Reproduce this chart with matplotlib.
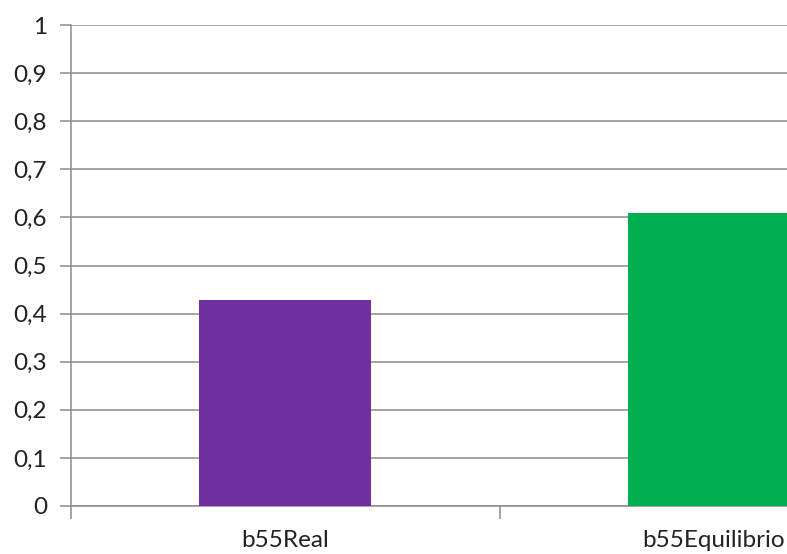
import matplotlib.pyplot as plt
import numpy as np
from matplotlib.ticker import FixedLocator

categories = ['b55Real', 'b55Equilibrio']
values = [0.428, 0.609]
colors = ['#7030A0', '#00B050']
yticks = [0, 0.1, 0.2, 0.3, 0.4, 0.5, 0.6, 0.7, 0.8, 0.9, 1]

plt.rcParams['font.family'] = ['Lato', 'DejaVu Sans']

fig = plt.figure(figsize=(7.87, 5.54), dpi=100)
# plot area runs past the right edge of the picture, as in the reference
ax = fig.add_axes([70.5 / 787, 48 / 554, 858 / 787, 481 / 554])

x = np.arange(len(categories))
ax.bar(x, values, width=0.403, color=colors, zorder=3)

ax.set_xlim(-0.5, 1.5)
ax.set_ylim(0, 1)
ax.set_yticks(yticks)
ax.set_yticklabels([('%g' % v).replace('.', ',') for v in yticks], fontsize=17.5, color='#222222')
ax.yaxis.grid(True, color='#8c8c8c', linewidth=1.1, zorder=0)

ax.set_xticks(x)
ax.set_xticklabels(categories, fontsize=17.5, color='#222222')
ax.tick_params(axis='x', length=0, pad=17)
ax.xaxis.set_minor_locator(FixedLocator([-0.5, 0.5, 1.5]))
ax.tick_params(axis='x', which='minor', length=9, color='#8c8c8c', width=1.1)
ax.tick_params(axis='y', length=8, color='#8c8c8c', width=1.1, pad=9)

for s in ['top', 'right']:
    ax.spines[s].set_visible(False)
ax.spines['left'].set_color('#8c8c8c')
ax.spines['left'].set_linewidth(1.1)
ax.spines['bottom'].set_color('#8c8c8c')
ax.spines['bottom'].set_linewidth(1.1)

fig.savefig('out.png', dpi=100)
